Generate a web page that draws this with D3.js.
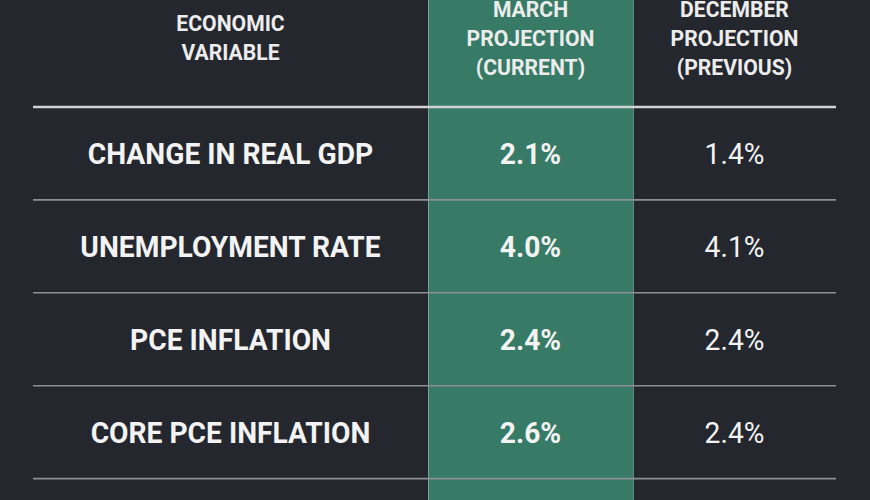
<!DOCTYPE html>
<html>
<head>
<meta charset="utf-8">
<script src="https://cdn.jsdelivr.net/npm/d3@7"></script>
<style>
  html, body { margin: 0; padding: 0; background: #24272e; }
  svg { display: block; }
</style>
</head>
<body>
<div id="chart"></div>
<script>
// data
const headers = [
  ["ECONOMIC", "VARIABLE"],
  ["MARCH", "PROJECTION", "(CURRENT)"],
  ["DECEMBER", "PROJECTION", "(PREVIOUS)"]
];
const variables = ["CHANGE IN REAL GDP", "UNEMPLOYMENT RATE", "PCE INFLATION", "CORE PCE INFLATION"];
const marchValues = [2.1, 4.0, 2.4, 2.6];
const decemberValues = [1.4, 4.1, 2.4, 2.4];

const width = 870, height = 500;
const bg = "#24272e", green = "#377a66", textCol = "#f3f3f3";
// bords des colonnes
const colEdges = [33, 428, 633, 836];
const headerY = 37.5, lineH = 29;
const squeeze = 0.94; // pour imiter une police condensée

const svg = d3.select("#chart").append("svg")
    .attr("width", width)
    .attr("height", height);

svg.append("rect")
    .attr("width", width).attr("height", height)
    .attr("fill", bg);

// lignes du tableau
const y = d3.scaleBand()
    .domain(variables)
    .range([107, 478.6]);

const colCenter = i => (colEdges[i] + colEdges[i + 1]) / 2;

// colonne verte (courante)
svg.append("rect")
    .attr("x", colEdges[1]).attr("y", 0)
    .attr("width", colEdges[2] - colEdges[1]).attr("height", height)
    .attr("fill", green);

svg.selectAll(".vline")
    .data([colEdges[1], colEdges[2]])
    .enter().append("line")
    .attr("x1", d => d + 0.5).attr("x2", d => d + 0.5)
    .attr("y1", 0).attr("y2", height)
    .attr("stroke", "#a9bfb7").attr("stroke-opacity", 0.6)
    .attr("stroke-width", 1);

// séparateurs
svg.selectAll(".rowline")
    .data(variables)
    .enter().append("line")
    .attr("x1", colEdges[0]).attr("x2", colEdges[3])
    .attr("y1", d => y(d) + y.bandwidth())
    .attr("y2", d => y(d) + y.bandwidth())
    .attr("stroke", "#8d9095")
    .attr("stroke-width", 1.6);

svg.append("line")
    .attr("x1", colEdges[0]).attr("x2", colEdges[3])
    .attr("y1", y.range()[0]).attr("y2", y.range()[0])
    .attr("stroke", "#d2d3d4")
    .attr("stroke-width", 2.6);

// en-têtes
headers.forEach((lines, i) => {
    svg.selectAll(".h" + i)
        .data(lines)
        .enter().append("text")
        .attr("transform", (d, j) => "translate(" + colCenter(i) + "," +
            (headerY + 8 + (j - (lines.length - 1) / 2) * lineH) + ") scale(" + squeeze + ",1)")
        .attr("text-anchor", "middle")
        .attr("font-family", "Roboto, 'Liberation Sans', sans-serif")
        .attr("font-weight", 700)
        .attr("font-size", 22.5)
        .attr("fill", "#ececec")
        .text(d => d);
});

const fmt = d3.format(".1f");
const rowText = (cls, col, data, weight) => {
    svg.selectAll("." + cls)
        .data(data)
        .enter().append("text")
        .attr("class", cls)
        .attr("transform", (d, i) => "translate(" + colCenter(col) + "," +
            (y(variables[i]) + y.bandwidth() / 2) + ") scale(" + squeeze + ",1)")
        .attr("dy", "0.36em")
        .attr("text-anchor", "middle")
        .attr("font-family", "Roboto, 'Liberation Sans', sans-serif")
        .attr("font-weight", weight)
        .attr("font-size", 30)
        .attr("fill", textCol)
        .text(d => typeof d === "number" ? fmt(d) + "%" : d);
};

rowText("var", 0, variables, 700);
rowText("march", 1, marchValues, 700);
rowText("dec", 2, decemberValues, 400);
</script>
</body>
</html>
